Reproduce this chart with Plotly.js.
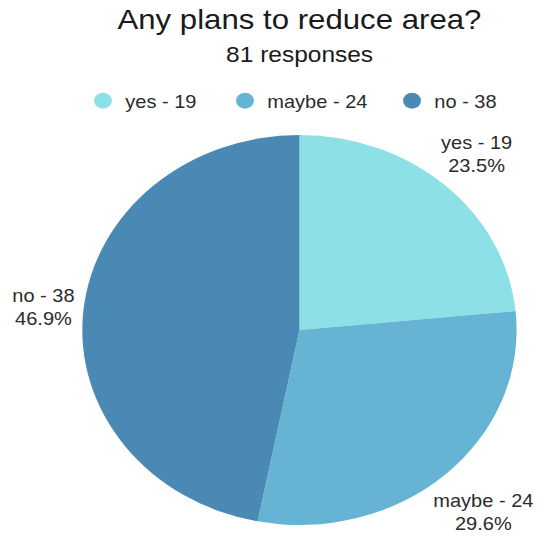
<!DOCTYPE html>
<html>
<head>
<meta charset="utf-8">
<script src="https://cdn.plot.ly/plotly-3.0.1.min.js"></script>
<style>
  html, body { margin: 0; padding: 0; background: #fff; overflow: hidden; }
  #chart { width: 484px; height: 537px; transform: scaleX(1.1136); transform-origin: 0 0; }
</style>
</head>
<body>
<div id="chart"></div>
<script>
// ---- data ----
const titleText = "Any plans to reduce area?";
const subtitleText = "81 responses";
const labels = ["yes", "maybe", "no"];
const values = [19, 24, 38];
const colors = ["#8de1e6", "#65b4d3", "#4a89b4"];

// ---- chart ----
const FONT = "Liberation Sans, Arial, sans-serif";
const W = 484, H = 537;
const domX = [73.9 / W, 463.9 / W];
const domY = [12 / H, 402 / H];

const pie = {
  type: "pie",
  labels: labels,
  values: values,
  sort: false,
  direction: "clockwise",
  rotation: 0,
  marker: { colors: colors, line: { width: 0 } },
  textinfo: "none",
  showlegend: false,
  hoverinfo: "none",
  domain: { x: domX, y: domY }
};

const legendNames = ["legend", "legend2", "legend3"];
const legendTraces = labels.map((l, i) => ({
  type: "scatter",
  mode: "markers",
  x: [null], y: [null],
  name: l + " - " + values[i],
  marker: { color: colors[i], size: 16, symbol: "circle" },
  showlegend: true,
  legend: legendNames[i],
  hoverinfo: "none"
}));

// outside slice labels, placed along each slice's mid-angle
const labelFont = { family: FONT, size: 18, color: "#2b2b2b" };
const ctx = document.createElement("canvas").getContext("2d");
ctx.font = "18px 'Liberation Sans'";
const total = values.reduce((a, b) => a + b, 0);
const cx = (domX[0] + domX[1]) / 2 * W;
const cy = (1 - (domY[0] + domY[1]) / 2) * H;
const R = Math.min((domX[1] - domX[0]) * W, (domY[1] - domY[0]) * H) / 2;
let cum = 0;
const annotations = labels.map((l, i) => {
  const th = 2 * Math.PI * (cum + values[i] / 2) / total;
  cum += values[i];
  const line1 = l + " - " + values[i];
  const line2 = (100 * values[i] / total).toFixed(1) + "%";
  const hw = Math.max(ctx.measureText(line1).width, ctx.measureText(line2).width) / 2;
  const hh = 20;
  const D = R + 6 + hw * Math.abs(Math.sin(th)) + hh * Math.abs(Math.cos(th));
  const px = cx + D * Math.sin(th);
  const py = cy - D * Math.cos(th);
  return {
    text: line1 + "<br>" + line2,
    xref: "paper", yref: "paper",
    x: px / W, y: 1 - py / H,
    xanchor: "center", yanchor: "middle",
    showarrow: false, align: "center",
    font: labelFont
  };
});
annotations.push({
  text: subtitleText,
  xref: "paper", yref: "paper",
  x: cx / W, y: 1 - 54 / H,
  xanchor: "center", yanchor: "middle",
  showarrow: false,
  font: { family: FONT, size: 22, color: "#1a1a1a" }
});

const legendX = [92.5, 220, 370]; // approx marker centers (unscaled px)
const legendFont = { family: FONT, size: 18, color: "#2b2b2b" };
const layout = {
  width: W, height: H,
  margin: { l: 0, r: 0, t: 0, b: 0 },
  paper_bgcolor: "#fff",
  plot_bgcolor: "#fff",
  font: { family: FONT, color: "#222" },
  title: {
    text: titleText,
    font: { family: FONT, size: 28, color: "#1a1a1a" },
    x: cx / W, xanchor: "center", xref: "paper",
    y: 1 - 9 / H, yanchor: "top", yref: "container"
  },
  xaxis: { visible: false },
  yaxis: { visible: false },
  annotations: annotations
};
legendNames.forEach((n, i) => {
  layout[n] = {
    x: (legendX[i] - 20) / W, xanchor: "left",
    y: 1 - 101 / H, yanchor: "middle",
    orientation: "h",
    font: legendFont,
    bgcolor: "rgba(0,0,0,0)",
    borderwidth: 0
  };
});

Plotly.newPlot("chart", [pie].concat(legendTraces), layout, { displayModeBar: false, staticPlot: true });
</script>
</body>
</html>
